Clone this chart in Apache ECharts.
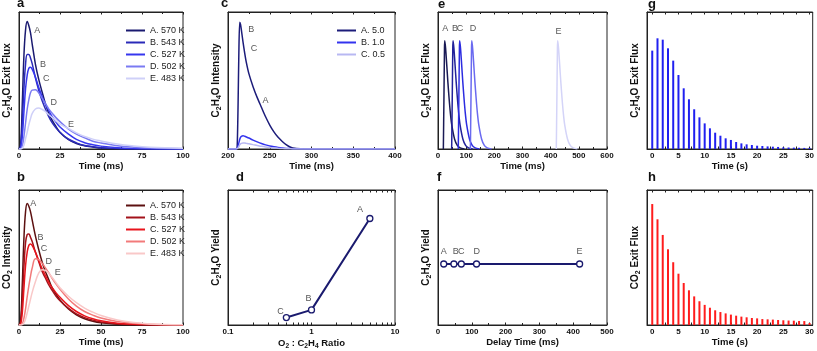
<!DOCTYPE html>
<html>
<head>
<meta charset="utf-8">
<script src="https://cdn.jsdelivr.net/npm/echarts@6/dist/echarts.min.js"></script>
<style>
  html, body { margin: 0; padding: 0; background: #fff; }
  #chart { width: 817px; height: 351px; }
</style>
</head>
<body>
<div id="chart"></div>
<script>
// a / b : transient responses at five temperatures (y in % of the frame)
const pulseTime = [0, 1, 2, 3, 4, 5, 6, 7, 8, 10, 12, 14, 16, 18, 20, 22.5, 25, 30, 35, 40, 45, 50, 60, 70, 80, 100]
const tempNames = ['A. 570 K', 'B. 543 K', 'C. 527 K', 'D. 502 K', 'E. 483 K']
const eoFluxA = [0, 3, 33, 68, 87, 93, 90, 85, 77, 62, 51, 42, 33.5, 26.5, 21.5, 16.5, 12, 7, 4, 2.3, 1.5, 0.7, 0.3, 0.1, 0, 0]
const eoFluxB = [0, 1.4, 19, 44, 62, 69, 69, 66.5, 62.5, 52, 43, 35.5, 29.5, 24, 19.6, 15.4, 12.2, 7.3, 4.5, 2.6, 1.6, 1, 0.4, 0.2, 0.05, 0]
const eoFluxC = [0, 0.6, 9, 27, 44, 54, 59, 59.7, 58.3, 52.5, 45, 38.6, 33, 28.5, 24, 19.7, 16, 11, 7, 4.6, 3.1, 2.1, 1, 0.4, 0.15, 0]
const eoFluxD = [0, 0.1, 2.2, 9.2, 19, 29, 36, 41, 43, 43.3, 41, 37.3, 33.4, 29.5, 26.5, 22.9, 20, 14.7, 10.8, 8.2, 5.7, 4.4, 2.4, 1.3, 0.7, 0.2]
const eoFluxE = [0, 0, 0.5, 2.7, 7.5, 12.3, 17.7, 22, 25.8, 29.2, 30, 29, 27.4, 25.2, 23.3, 20.5, 18.1, 15, 11.8, 9.1, 7.2, 5.9, 3.6, 2.2, 1.3, 0.5]
const co2A = [0, 3, 30, 64, 84, 90, 88, 84, 78, 66, 56, 47, 40, 34, 28, 23, 18.5, 12, 7.5, 4.6, 2.8, 1.7, 0.6, 0.2, 0.05, 0]
const co2B = [0, 1.5, 18, 43, 61, 67, 67.5, 65, 62, 54, 47, 40, 35, 30, 26, 21.5, 18, 12.5, 8.3, 5.5, 3.6, 2.3, 0.9, 0.35, 0.1, 0]
const co2C = [0, 0.8, 9, 27, 44, 54, 59, 60, 59, 54, 48, 42, 37, 32, 28, 24, 20.5, 14.5, 10, 6.8, 4.6, 3.1, 1.3, 0.55, 0.2, 0]
const co2D = [0, 0.1, 1, 5, 12, 21, 29, 36, 42, 49, 48.5, 46, 42.5, 39, 35, 30.5, 26.5, 19.5, 14, 10, 7.3, 5.2, 2.6, 1.3, 0.6, 0.1]
const co2E = [0, 0, 0.3, 1.5, 4.5, 9, 14, 19, 24, 32, 38.5, 41, 40.5, 38.5, 35.5, 31.5, 27.5, 21.5, 16.5, 12.5, 9.5, 7, 3.7, 1.8, 0.8, 0.1]

// c : C2H4O intensity for three O2 : C2H4 ratios
const ratioNames = ['A. 5.0', 'B. 1.0', 'C. 0.5']
const cTime = [200, 210, 211, 212, 213, 214, 215, 216, 218, 220, 222, 225, 230, 235, 240, 245, 250, 255, 260, 265, 270, 275, 280, 290, 300, 400]
const cIntA = [0, 0, 2, 30, 70, 92.5, 91, 87, 78, 70, 63, 55, 45.5, 37.5, 30.5, 23.5, 17.5, 12.5, 8.5, 5.5, 3, 1.3, 0.5, 0.1, 0, 0]
const cIntB = [0, 0, 0.5, 2, 4.5, 7, 8.5, 9.3, 9.7, 9.3, 8.8, 8, 6.5, 5.2, 4, 3, 2.2, 1.6, 1.1, 0.7, 0.45, 0.3, 0.15, 0.05, 0, 0]
const cIntC = [0, 0, 0.2, 0.8, 1.8, 3, 3.7, 4.1, 4.4, 4.3, 4.1, 3.8, 3.2, 2.6, 2, 1.5, 1.1, 0.8, 0.55, 0.35, 0.2, 0.12, 0.05, 0.01, 0, 0]

// d : yield vs ratio
const dRatio = [0.5, 1, 5]
const dYield = [5.5, 11.2, 78.9]

// e : pulses after different delay times
const eTimeA = [19, 21, 23, 24, 27, 31, 35, 39, 44, 49, 59, 69, 79, 94]
const eTimeB = [48.5, 50.5, 52.5, 53.5, 56.5, 60.5, 64.5, 68.5, 73.5, 78.5, 88.5, 98.5, 108.5, 123.5]
const eTimeC = [72, 74, 76, 77, 80, 84, 88, 92, 97, 102, 112, 122, 132, 147]
const eTimeD = [115, 117, 119, 120, 123, 127, 131, 135, 140, 145, 155, 165, 175, 190]
const eTimeE = [420, 422, 424, 425, 428, 432, 436, 440, 445, 450, 460, 470, 480, 495]
const eFlux = [0, 35.5, 73.5, 79, 73.5, 61.6, 49, 38, 26, 17.4, 7.1, 2.4, 0.8, 0]

// f : yield vs delay time
const fDelay = [17, 47, 69, 114, 419]
const fYield = [45.2, 45.2, 45.2, 45.2, 45.2]

// g / h : pulse train
const pulseIndex = [0, 1, 2, 3, 4, 5, 6, 7, 8, 9, 10, 11, 12, 13, 14, 15, 16, 17, 18, 19, 20, 21, 22, 23, 24, 25, 26, 27, 28, 29, 30]
const gFlux = [71.8, 80.8, 79.8, 73.5, 64.5, 54, 44.3, 36.3, 29, 23.1, 18.7, 15.1, 11.9, 9.7, 7.8, 6.6, 5.1, 4.1, 3.4, 2.9, 2.4, 2.2, 1.9, 1.7, 1.5, 1.2, 1.1, 1, 0.9, 0.8, 0.8]
const hFlux = [89.6, 78.3, 66.7, 56.1, 46.5, 38, 31.1, 25.7, 21.2, 17.6, 14.9, 12.8, 10.9, 9.6, 8.6, 7.7, 6.9, 6.2, 5.7, 5.2, 4.9, 4.4, 4.2, 4, 3.7, 3.5, 3.3, 3.2, 3, 2.9, 1.5]

// annotation letters and where they sit
const aTags = ['A', 'B', 'C', 'D', 'E']
const aTagPos = [[11.1, 86.6], [14.7, 61.6], [16.6, 51.8], [21.2, 33.6], [31.7, 17.8]]
const bTagPos = [[8.7, 89.9], [13.1, 64.8], [15.2, 56.7], [18.2, 46.8], [23.6, 38.9]]
const cTags = ['B', 'C', 'A']
const cTagPos = [[227.8, 87.1], [231, 73], [244.9, 35.5]]
const dTags = ['A', 'B', 'C']
const dTagPos = [[3.82, 85.8], [0.92, 19.9], [0.426, 10]]
const eTagPos = [[26.1, 87.6], [60.6, 87.6], [78.4, 87.6], [124.7, 87.6], [427.7, 85.9]]
const fTagPos = [[16.8, 54.3], [52.3, 54.3], [69, 54.3], [114.4, 54.3], [419, 54.3]]

const FONT = 'Liberation Sans, Arial, Helvetica, sans-serif'
const AX = '#222'
const blues = ['#1a1a70', '#2a2ab8', '#3636ee', '#7a7af2', '#cfd0f8']
const reds = ['#5c1010', '#a3121a', '#e8141c', '#f27a7a', '#f9c8c8']
const navy = '#1a1a6e'

const grids = [
  { left: 18, top: 12, width: 165, height: 137 },   // a
  { left: 18, top: 190, width: 165, height: 135 },  // b
  { left: 228, top: 12, width: 167, height: 137 },  // c
  { left: 228, top: 190, width: 167, height: 135 }, // d
  { left: 438, top: 12, width: 169, height: 137 },  // e
  { left: 438, top: 190, width: 169, height: 135 }, // f
  { left: 647, top: 12, width: 166, height: 137 },  // g
  { left: 647, top: 190, width: 166, height: 135 }  // h
].map(g => Object.assign({ show: true, borderColor: AX, borderWidth: 1, backgroundColor: 'transparent' }, g))

function nameStyle(size) {
  const sub = size * 0.7
  return {
    fontSize: size, fontWeight: 'bold', color: '#111', fontFamily: FONT,
    rich: {
      n: { fontSize: size, fontWeight: 'bold', color: '#111', fontFamily: FONT, lineHeight: size + 3 },
      s: { fontSize: sub, fontWeight: 'bold', color: '#111', fontFamily: FONT, lineHeight: sub, padding: [size * 0.6, 0, 0, 0], verticalAlign: 'bottom' }
    }
  }
}

function bottomAxis(p, o) {
  const ax = {
    gridIndex: p, type: o.type || 'value', position: 'bottom', min: o.min, max: o.max,
    axisLine: { show: true, onZero: false, lineStyle: { color: AX, width: 1 } },
    axisTick: { show: true, inside: true, length: 2.5, lineStyle: { color: AX } },
    axisLabel: { show: true, margin: 3, fontSize: 8, fontWeight: 'bold', color: '#111', fontFamily: FONT },
    splitLine: { show: false },
    name: o.name, nameLocation: 'middle', nameGap: o.nameGap,
    nameTextStyle: nameStyle(9.5)
  }
  if (o.interval) ax.interval = o.interval
  if (o.minor) ax.minorTick = { show: true, splitNumber: o.minor, length: 2, lineStyle: { color: AX } }
  if (o.tickValues) ax.axisTick.customValues = o.tickValues
  if (o.labelValues) ax.axisLabel.customValues = o.labelValues
  if (o.type === 'log') ax.logBase = 10
  return ax
}

function topAxis(p, o) {
  const ax = bottomAxis(p, o)
  ax.position = 'top'
  ax.axisLabel = { show: false }
  ax.name = ''
  return ax
}

function leftAxis(p, name, gap) {
  return {
    gridIndex: p, type: 'value', min: 0, max: 100, position: 'left',
    axisLine: { show: true, onZero: false, lineStyle: { color: AX } },
    axisTick: { show: false }, axisLabel: { show: false }, splitLine: { show: false },
    name, nameLocation: 'middle', nameGap: gap, nameTextStyle: nameStyle(10)
  }
}

const xOpts = [
  { min: 0, max: 100, interval: 25, minor: 2, name: 'Time (ms)', nameGap: 11 },
  { min: 0, max: 100, interval: 25, minor: 2, name: 'Time (ms)', nameGap: 11 },
  { min: 200, max: 400, interval: 50, minor: 2, name: 'Time (ms)', nameGap: 11 },
  { type: 'log', min: 0.1, max: 10, labelValues: [0.1, 1, 10],
    tickValues: [0.1, 0.2, 0.3, 0.4, 0.5, 0.6, 0.7, 0.8, 0.9, 1, 2, 3, 4, 5, 6, 7, 8, 9, 10],
    name: '{n|O}{s|2}{n| : C}{s|2}{n|H}{s|4}{n| Ratio}', nameGap: 10 },
  { min: 0, max: 600, interval: 100, minor: 2, name: 'Time (ms)', nameGap: 7 },
  { min: 0, max: 500, interval: 100, minor: 2, name: 'Delay Time (ms)', nameGap: 10 },
  { min: -1, max: 30.6, labelValues: [0, 5, 10, 15, 20, 25, 30],
    tickValues: [0, 2.5, 5, 7.5, 10, 12.5, 15, 17.5, 20, 22.5, 25, 27.5, 30], name: 'Time (s)', nameGap: 7 },
  { min: -1, max: 30.6, labelValues: [0, 5, 10, 15, 20, 25, 30],
    tickValues: [0, 2.5, 5, 7.5, 10, 12.5, 15, 17.5, 20, 22.5, 25, 27.5, 30], name: 'Time (s)', nameGap: 7 }
]
const eoName = '{n|C}{s|2}{n|H}{s|4}{n|O Exit Flux}'
const yNames = [
  eoName, '{n|CO}{s|2}{n| Intensity}', '{n|C}{s|2}{n|H}{s|4}{n|O Intensity}', '{n|C}{s|2}{n|H}{s|4}{n|O Yield}',
  eoName, '{n|C}{s|2}{n|H}{s|4}{n|O Yield}', eoName, '{n|CO}{s|2}{n| Exit Flux}'
]

const xAxes = []
xOpts.forEach((o, p) => { xAxes.push(bottomAxis(p, o)); xAxes.push(topAxis(p, o)) })
const yAxes = yNames.map((n, p) => leftAxis(p, n, 5))

function zip(xs, ys) { return xs.map((x, i) => [x, ys[i]]) }

function curve(p, name, xs, ys, color, smooth) {
  return {
    name, type: 'line', xAxisIndex: 2 * p, yAxisIndex: p, data: zip(xs, ys),
    symbol: 'none', smooth: smooth, lineStyle: { color, width: 1.5 }, itemStyle: { color },
    silent: true, animation: false
  }
}

function tags(p, names, pos) {
  return {
    type: 'scatter', xAxisIndex: 2 * p, yAxisIndex: p, symbolSize: 0, silent: true, animation: false,
    data: names.map((n, i) => ({ name: n, value: pos[i] })),
    label: { show: true, position: 'inside', formatter: '{b}', color: '#2a2a2a', fontSize: 9, fontFamily: FONT }
  }
}

function bars(p, ys, color) {
  return {
    type: 'bar', xAxisIndex: 2 * p, yAxisIndex: p, data: zip(pulseIndex, ys), barWidth: 2,
    itemStyle: { color }, silent: true, animation: false
  }
}

const bNames = tempNames.map(n => n + ' ')
const eoCurves = [eoFluxA, eoFluxB, eoFluxC, eoFluxD, eoFluxE]
const co2Curves = [co2A, co2B, co2C, co2D, co2E]
const eTimes = [eTimeA, eTimeB, eTimeC, eTimeD, eTimeE]
const eColors = ['#1a1a55', '#22229a', '#2c2ce0', '#6a6af0', '#d4d4f8']
const cColors = ['#1c1c7a', '#3333ee', '#b8b8f2']

const series = []
eoCurves.forEach((ys, i) => series.push(curve(0, tempNames[i], pulseTime, ys, blues[i], 0.4)))
series.push(tags(0, aTags, aTagPos))
co2Curves.forEach((ys, i) => series.push(curve(1, bNames[i], pulseTime, ys, reds[i], 0.4)))
series.push(tags(1, aTags, bTagPos))
;[cIntA, cIntB, cIntC].forEach((ys, i) => series.push(curve(2, ratioNames[i], cTime, ys, cColors[i], 0.25)))
series.push(tags(2, cTags, cTagPos))
series.push({
  type: 'line', xAxisIndex: 6, yAxisIndex: 3, data: zip(dRatio, dYield), symbol: 'circle', symbolSize: 6,
  lineStyle: { color: navy, width: 2 }, itemStyle: { color: '#fff', borderColor: navy, borderWidth: 1.3 },
  silent: true, animation: false
})
series.push(tags(3, dTags, dTagPos))
eTimes.forEach((ts, i) => series.push(curve(4, 'e' + i, ts, eFlux, eColors[i], 0.25)))
series.push(tags(4, aTags, eTagPos))
series.push({
  type: 'line', xAxisIndex: 10, yAxisIndex: 5, data: zip(fDelay, fYield), symbol: 'circle', symbolSize: 6,
  lineStyle: { color: navy, width: 2 }, itemStyle: { color: '#fff', borderColor: navy, borderWidth: 1.3 },
  silent: true, animation: false
})
series.push(tags(5, aTags, fTagPos))
series.push(bars(6, gFlux, '#2020f0'))
series.push(bars(7, hFlux, '#ff1c1c'))

function legendAt(data, left, top) {
  return {
    data, left, top, orient: 'vertical', icon: 'rect', itemWidth: 19, itemHeight: 2, itemGap: 3, selectedMode: false,
    textStyle: { fontSize: 9, fontFamily: FONT, color: '#222', lineHeight: 8 }
  }
}

function letter(text, left, top) {
  return { type: 'text', left, top, style: { text, fontSize: 13, fontWeight: 'bold', fontFamily: FONT, fill: '#111' } }
}

const chart = echarts.init(document.getElementById('chart'), null, { renderer: 'canvas' })
chart.setOption({
  animation: false,
  backgroundColor: '#fff',
  grid: grids,
  xAxis: xAxes,
  yAxis: yAxes,
  legend: [legendAt(tempNames, 121, 21), legendAt(bNames, 121, 196), legendAt(ratioNames, 332, 21)],
  graphic: [
    letter('a', 17, -3), letter('b', 17, 171), letter('c', 221, -3), letter('d', 236, 171),
    letter('e', 438, -2), letter('f', 437, 171), letter('g', 648, -2), letter('h', 648, 171)
  ],
  series
})
</script>
</body>
</html>
